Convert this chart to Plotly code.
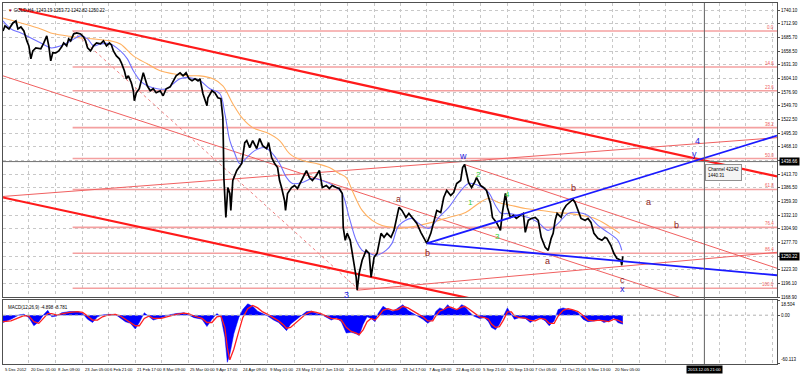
import plotly.graph_objects as go

# ---------------- data (x = bar position on the chart's time scale) ----------------
date_labels = ["5 Dec 2012", "20 Dec 01:00", "8 Jan 09:00", "23 Jan 05:00", "6 Feb 21:00",
               "21 Feb 17:00", "8 Mar 09:00", "25 Mar 00:00", "9 Apr 17:00", "24 Apr 09:00",
               "9 May 01:00", "23 May 17:00", "7 Jun 13:00", "24 Jun 05:00", "9 Jul 01:00",
               "23 Jul 17:00", "7 Aug 09:00", "22 Aug 01:00", "5 Sep 21:00", "20 Sep 13:00",
               "7 Oct 05:00", "21 Oct 21:00", "5 Nov 13:00", "20 Nov 05:00"]
date_pos = [2, 28, 55, 82, 108, 135, 161, 188, 214, 241, 268, 295, 321, 348, 375, 402,
            428, 455, 482, 509, 535, 562, 588, 615]
grid_pos = [2, 28, 55, 82, 108, 135, 161, 188, 214, 241, 268, 295, 321, 348, 375, 402,
            428, 455, 482, 509, 535, 562, 588, 615, 642, 668, 695, 722, 748, 775]

price_x = [2, 4, 8, 12, 15, 17, 20, 23, 26, 28, 30, 32, 35, 40, 43, 46, 48, 50, 52, 55, 58, 61, 63,
           66, 68, 70, 73, 76, 80, 83, 85, 87, 90, 93, 96, 100, 103, 106, 109, 111, 113, 116, 119,
           121, 124, 126, 128, 131, 133, 134, 136, 139, 143, 145, 147, 150, 153, 156, 160, 163, 166,
           170, 173, 176, 180, 183, 186, 189, 192, 195, 198, 200, 203, 207, 208, 212, 215, 218, 221,
           223, 223.5, 224, 226, 228, 230, 231, 233, 237, 242, 245, 247, 250, 253, 257, 260, 263,
           267, 269, 272, 275, 278, 280, 282, 285, 286, 288, 292, 295, 298, 302, 307, 310, 313, 317,
           320, 323, 327, 330, 333, 337, 340, 343, 344, 346, 348, 351, 353, 355, 357, 358, 360, 363,
           367, 370, 372, 375, 378, 382, 385, 388, 392, 395, 397, 399, 400, 403, 407, 410, 415, 418,
           422, 425, 428, 432, 435, 438, 442, 445, 448, 452, 455, 458, 462, 464, 466, 468, 470, 473,
           476, 478, 482, 485, 488, 492, 494, 498, 502, 504, 506, 507, 509, 512, 515, 518, 522, 525,
           527, 530, 533, 537, 540, 543, 547, 550, 553, 555, 557, 559, 563, 565, 568, 572, 575, 577,
           580, 583, 587, 590, 593, 596, 600, 604, 607, 609, 613, 616, 619, 623, 624, 625]
price = [1698.6, 1708.6, 1702.6, 1714.5, 1718.5, 1702.6, 1706.6, 1698.6, 1678.8, 1668.9, 1643.1,
         1658.9, 1664.9, 1662.9, 1674.8, 1688.7, 1668.9, 1639.1, 1655.0, 1655.0, 1658.9, 1666.9,
         1674.8, 1668.9, 1682.8, 1678.8, 1692.7, 1694.7, 1692.7, 1686.7, 1678.8, 1664.9, 1658.9,
         1668.9, 1674.8, 1672.8, 1678.8, 1668.9, 1674.8, 1670.9, 1658.9, 1649.0, 1643.1, 1635.1,
         1619.3, 1603.4, 1609.3, 1595.5, 1579.6, 1559.7, 1575.6, 1583.6, 1615.3, 1599.4, 1589.5,
         1579.6, 1583.6, 1575.6, 1579.6, 1569.7, 1583.6, 1587.5, 1599.4, 1609.3, 1615.3, 1609.3,
         1615.3, 1603.4, 1599.4, 1603.4, 1599.4, 1603.4, 1573.6, 1549.8, 1565.7, 1579.6, 1575.6,
         1565.7, 1563.7, 1526.0, 1474.4, 1407.0, 1327.6, 1387.1, 1375.2, 1341.5, 1401.0, 1420.9,
         1434.8, 1476.4, 1480.4, 1466.5, 1480.4, 1464.5, 1484.4, 1470.5, 1464.5, 1476.4, 1446.7,
         1434.8, 1426.8, 1401.0, 1387.1, 1361.3, 1341.5, 1375.2, 1387.1, 1391.1, 1385.2, 1401.0,
         1420.9, 1407.0, 1401.0, 1410.9, 1420.9, 1387.1, 1391.1, 1385.2, 1391.1, 1387.1, 1385.2,
         1375.2, 1307.8, 1282.0, 1295.9, 1282.0, 1256.2, 1236.4, 1208.6, 1182.8, 1216.5, 1242.3,
         1262.1, 1256.2, 1208.6, 1248.3, 1256.2, 1295.9, 1287.9, 1295.9, 1287.9, 1301.8, 1321.7,
         1341.5, 1347.5, 1341.5, 1327.6, 1335.6, 1321.7, 1315.7, 1297.9, 1287.9, 1276.0, 1295.9,
         1317.7, 1341.5, 1337.5, 1367.3, 1381.2, 1371.3, 1377.2, 1395.1, 1401.0, 1426.8, 1432.8,
         1414.9, 1397.1, 1387.1, 1397.1, 1407.0, 1391.1, 1387.1, 1381.2, 1355.4, 1327.6, 1317.7,
         1301.8, 1337.5, 1367.3, 1375.2, 1347.5, 1327.6, 1331.6, 1325.6, 1331.6, 1335.6, 1297.9,
         1321.7, 1325.6, 1327.6, 1321.7, 1287.9, 1268.1, 1262.1, 1286.0, 1295.9, 1321.7, 1335.6,
         1327.6, 1341.5, 1351.4, 1357.4, 1363.3, 1357.4, 1341.5, 1325.6, 1321.7, 1325.6, 1317.7,
         1295.9, 1286.0, 1282.0, 1287.9, 1286.0, 1272.1, 1256.2, 1246.3, 1242.3, 1232.4, 1250.2]

ma_fast_x = [2, 10, 20, 30, 40, 50, 60, 70, 80, 87, 93, 100, 110, 120, 127, 133, 140, 147, 157,
             167, 173, 180, 190, 200, 210, 220, 225, 230, 235, 240, 247, 255, 265, 272, 280, 287,
             293, 303, 313, 323, 337, 343, 350, 357, 363, 370, 377, 387, 393, 400, 413, 420, 430,
             440, 450, 460, 470, 480, 490, 497, 503, 510, 520, 530, 540, 550, 560, 570, 580, 590,
             600, 610, 620, 624]
ma_fast = [1718.5, 1702.6, 1694.7, 1684.7, 1674.8, 1664.9, 1668.9, 1678.8, 1688.7, 1682.8, 1668.9,
           1672.8, 1672.8, 1658.9, 1643.1, 1619.3, 1599.4, 1589.5, 1583.6, 1583.6, 1593.5, 1603.4,
           1605.4, 1599.4, 1583.6, 1573.6, 1534.0, 1480.4, 1454.6, 1434.8, 1446.7, 1460.5, 1466.5,
           1456.6, 1434.8, 1407.0, 1395.1, 1397.1, 1405.0, 1401.0, 1387.1, 1375.2, 1327.6, 1282.0,
           1262.1, 1256.2, 1252.2, 1262.1, 1276.0, 1311.7, 1325.6, 1315.7, 1305.8, 1327.6, 1347.5,
           1375.2, 1395.1, 1391.1, 1377.2, 1351.4, 1335.6, 1335.6, 1331.6, 1327.6, 1317.7, 1301.8,
           1315.7, 1335.6, 1337.5, 1331.6, 1311.7, 1297.9, 1282.0, 1262.1]

ma_slow_x = [2, 20, 40, 50, 67, 80, 93, 110, 120, 133, 147, 160, 173, 187, 200, 213, 223, 233, 243,
             253, 267, 280, 290, 303, 317, 330, 340, 347, 353, 363, 373, 383, 393, 400, 420, 433,
             450, 467, 480, 490, 500, 513, 527, 543, 557, 570, 583, 597, 610, 622]
ma_slow = [1724.4, 1714.5, 1702.6, 1694.7, 1688.7, 1684.7, 1682.8, 1678.8, 1672.8, 1649.0, 1633.2,
           1619.3, 1613.3, 1609.3, 1609.3, 1603.4, 1589.5, 1553.8, 1524.0, 1506.2, 1496.3, 1480.4,
           1454.6, 1440.7, 1434.8, 1426.8, 1414.9, 1407.0, 1381.2, 1341.5, 1321.7, 1311.7, 1307.8,
           1305.8, 1311.7, 1317.7, 1327.6, 1337.5, 1355.4, 1365.3, 1357.4, 1351.4, 1345.5, 1341.5,
           1337.5, 1335.6, 1331.6, 1325.6, 1311.7, 1295.9]

# trend lines: (x0, p0, x1, p1)
thick_red_lines = [(18, 1742.3, 780, 1409.0), (2, 1367.3, 480, 1162.9)]
thin_red_lines = [(2, 1369.3, 780, 1486.3), (2, 1609.3, 700, 1157.0),
                  (466, 1432.8, 780, 1226.4), (358, 1182.8, 780, 1258.2)]
blue_lines = [(428, 1276.0, 780, 1490.3), (428, 1276.0, 780, 1212.5)]
fib_dotted = (72, 1698.6, 358, 1186.8)

fib_labels = ["0.0", "14.6", "23.6", "38.2", "50.0", "61.8", "76.4", "86.4", "100.0"]
fib_prices = [1698.6, 1627.0, 1579.6, 1506.2, 1444.7, 1383.2, 1307.8, 1256.2, 1186.8]
fib_start = 72

price_ticks = [1168.90, 1196.10, 1223.30, 1250.50, 1277.70, 1304.90, 1332.10, 1359.30, 1386.50,
               1413.70, 1440.90, 1468.10, 1495.30, 1522.50, 1549.70, 1576.90, 1604.10, 1631.30,
               1658.50, 1685.70, 1712.90, 1740.10]
hidden_ticks = [1250.50, 1440.90]
cross_price = 1438.66
last_price = 1250.22
cross_x = 707

wave_blue = [("w", 464, 1450.6), ("4", 700, 1480.4), ("y", 697, 1454.6), ("3", 347, 1173.5),
             ("x", 625, 1184.8)]
wave_red = [("a", 400, 1363.3), ("b", 429, 1256.2), ("a", 549, 1240.3), ("b", 575, 1387.1),
            ("c", 625, 1202.6), ("a", 651, 1357.4), ("b", 679, 1311.7)]
wave_green = [("1", 472, 1357.4), ("2", 480, 1412.9), ("3", 499, 1289.9), ("4", 509, 1373.3)]

macd_x = [2, 10, 18, 23, 28, 33, 38, 43, 47, 51, 56, 61, 69, 77, 82, 87, 92, 97, 102, 107, 115, 120,
          125, 130, 135, 139, 144, 149, 153, 161, 169, 176, 184, 189, 194, 202, 207, 212, 217, 221,
          225, 227.5, 230, 234, 239, 243, 248, 253, 258, 263, 268, 274, 279, 284, 287, 291, 297,
          302, 307, 312, 317, 322, 327, 332, 337, 342, 347, 352, 357, 360, 364, 368, 372, 376, 379,
          384, 389, 394, 399, 404, 409, 417, 424, 429, 434, 437, 441, 445, 449, 452, 458, 463, 466,
          470, 475, 481, 486, 490, 493, 497, 501, 505, 509, 513, 516, 521, 527, 532, 537, 542, 547,
          551, 556, 560, 565, 570, 575, 580, 585, 590, 596, 601, 606, 611, 616, 620, 625]
macd_hist = [-9, -5, 0.4, 1.2, -3, -13, -8, 1, 6, -2, -1, 3, 4.5, 4.5, 2, -5, -9, -2, 0.4, 1, 1, -3,
             -8, -10, -17, -9, 3, -2, -6, -3, 0.4, 2, 3, 0, -3, -5, -14, -5, 2, -2, -27, -58, -48,
             -23, -3, 7, 14, 11, 5, 2, -1, -6, -9, -15, -19, -11, -5, 0.4, 4.5, 5, 2, 1, -3, -6, -3,
             -8, -22, -21, -23, -25, -11, -2, -4, -8, 2, 11, 7, 4.5, 9, 13, 6, 0.4, -5, -10, -5, 4.5,
             9, 7, 13, 9, 6, 13, 11, 5, -1, -4, -3, -8, -15, -18, -11, -1, 9, 1, -5, -3, -4, -9, -5,
             -3, -7, -13, -7, 7, 9, 7, 6, 3, -5, -8, -7, -5, -9, -7, -3, -9, -11]
macd_signal = [-8, -7, -3, -0.5, -1, -8, -10, -4, 2, 2, 0, 1.5, 3.5, 4.5, 3.5, -1, -6, -6, -2, 0, 1,
               -1, -5, -8, -13, -13, -4, -1, -4, -4, -1, 1, 2.5, 1.5, -1, -4, -9, -9, -2, -1, -15,
               -40, -55, -42, -20, -3, 8, 12, 9, 4, 1, -3, -7, -12, -16, -15, -9, -3, 2, 4.5, 3.5,
               1.5, -1, -4, -4.5, -6, -15, -20, -22, -24, -18, -8, -4, -6, -2, 6, 8, 6, 7, 11, 9, 3,
               -2, -7, -7, -1, 5, 7, 10, 10, 7, 10, 11, 8, 3, -2, -3, -5, -11, -15, -14, -6, 4, 4,
               -1, -3, -3.5, -6.5, -7, -4, -5, -10, -10, -1, 6, 8, 6.5, 4.5, -0.5, -6, -7, -6, -7,
               -8, -5, -6, -9]
macd_top, macd_bottom = 18.504, -60.113

# ---------------- figure ----------------
fig = go.Figure()
XA, YA = "x", "y"
XB, YB = "x2", "y2"

# fib horizontal lines
for p in fib_prices:
    fig.add_trace(go.Scatter(x=[fib_start, 780], y=[p, p], mode="lines", xaxis=XA, yaxis=YA,
                             line=dict(color="#f4a0a0", width=1.6), hoverinfo="skip"))
fig.add_trace(go.Scatter(x=[fib_dotted[0], fib_dotted[2]], y=[fib_dotted[1], fib_dotted[3]],
                         mode="lines", xaxis=XA, yaxis=YA,
                         line=dict(color="#f08080", width=1, dash="dot"), hoverinfo="skip"))
for x0, p0, x1, p1 in thin_red_lines:
    fig.add_trace(go.Scatter(x=[x0, x1], y=[p0, p1], mode="lines", xaxis=XA, yaxis=YA,
                             line=dict(color="#f06060", width=1), hoverinfo="skip"))
for x0, p0, x1, p1 in thick_red_lines:
    fig.add_trace(go.Scatter(x=[x0, x1], y=[p0, p1], mode="lines", xaxis=XA, yaxis=YA,
                             line=dict(color="#ff1a1a", width=2.2), hoverinfo="skip"))
# crosshair horizontal
fig.add_trace(go.Scatter(x=[2, 780], y=[cross_price, cross_price], mode="lines", xaxis=XA, yaxis=YA,
                         line=dict(color="#707070", width=1), hoverinfo="skip"))
# moving averages
fig.add_trace(go.Scatter(x=ma_slow_x, y=ma_slow, mode="lines", xaxis=XA, yaxis=YA,
                         line=dict(color="#ffb060", width=1.1, shape="spline"), hoverinfo="skip"))
fig.add_trace(go.Scatter(x=ma_fast_x, y=ma_fast, mode="lines", xaxis=XA, yaxis=YA,
                         line=dict(color="#7070ff", width=1.1, shape="spline"), hoverinfo="skip"))
# price
fig.add_trace(go.Scatter(x=price_x, y=price, mode="lines", xaxis=XA, yaxis=YA,
                         line=dict(color="#000000", width=1.7), hoverinfo="skip"))
for x0, p0, x1, p1 in blue_lines:
    fig.add_trace(go.Scatter(x=[x0, x1], y=[p0, p1], mode="lines", xaxis=XA, yaxis=YA,
                             line=dict(color="#1a1aff", width=1.8), hoverinfo="skip"))

# wave labels
for t, x, p in wave_blue:
    fig.add_annotation(x=x, y=p, xref=XA, yref=YA, text=t, showarrow=False,
                       font=dict(family="Liberation Sans", size=9, color="#2020e0"))
for t, x, p in wave_red:
    fig.add_annotation(x=x, y=p, xref=XA, yref=YA, text=t, showarrow=False,
                       font=dict(family="Liberation Sans", size=9, color="#8b1a1a"))
for t, x, p in wave_green:
    fig.add_annotation(x=x, y=p, xref=XA, yref=YA, text=t, showarrow=False,
                       font=dict(family="Liberation Sans", size=8, color="#30d030"))

# fib labels
for t, p in zip(fib_labels, fib_prices):
    fig.add_annotation(x=779, y=p, xref=XA, yref=YA, text=t, showarrow=False, xanchor="right",
                       yanchor="bottom", yshift=-1,
                       font=dict(family="Liberation Sans", size=4.5, color="#f06060"))

# MACD
fig.add_trace(go.Scatter(x=macd_x, y=macd_hist, mode="lines", xaxis=XB, yaxis=YB, fill="tozeroy",
                         fillcolor="#0000ff", line=dict(color="#0000ff", width=0.5), hoverinfo="skip"))
fig.add_trace(go.Scatter(x=macd_x, y=macd_signal, mode="lines", xaxis=XB, yaxis=YB,
                         line=dict(color="#ff2020", width=1.3), hoverinfo="skip"))

# vertical crosshair
fig.add_shape(type="line", xref=XA, yref="paper", x0=cross_x, x1=cross_x, y0=0, y1=1,
              line=dict(color="#606060", width=1))
fig.add_shape(type="line", xref=XB, yref=YB, x0=2, x1=780, y0=0, y1=0,
              line=dict(color="#b0b0b0", width=1, dash="dot"))

# texts
small = dict(family="Liberation Sans", size=4.5, color="#000000")
fig.add_annotation(x=0.004, y=0.992, xref="paper", yref="paper", xanchor="left", yanchor="top",
                   showarrow=False, text="<span style='color:#a00000'>▼</span> GOLD,H4  1243.19 1253.72 1242.82 1250.22",
                   font=small)
fig.add_annotation(x=0.004, y=0.17, xref="paper", yref="paper", xanchor="left", yanchor="top",
                   showarrow=False, text="MACD(12,26,9) -4.898 -8.781", font=small)
fig.add_annotation(x=cross_x + 1, y=cross_price, xref=XA, yref=YA, xanchor="left", yanchor="top",
                   showarrow=False, text="Channel 42242<br>1440.31", align="left", yshift=-2,
                   bgcolor="#f4f4f4", bordercolor="#909090", borderwidth=1, borderpad=2,
                   font=dict(family="Liberation Sans", size=4.5, color="#000000"))
for p in (cross_price, last_price):
    fig.add_annotation(x=1.0, y=p, xref="paper", yref=YA, xanchor="left", showarrow=False,
                       text=f"{p:.2f}", bgcolor="#000000", xshift=2,
                       font=dict(family="Liberation Sans", size=4.5, color="#ffffff"))
# MACD scale labels
for t, v, anchor in (("18.504", macd_top, "top"), ("0.00", 0, "middle"), ("-60.113", macd_bottom, "bottom")):
    fig.add_annotation(x=1.0, y=v, xref="paper", yref=YB, xanchor="left", yanchor=anchor,
                       showarrow=False, text=t, xshift=2, font=small)
for t, x in zip(date_labels, date_pos):
    fig.add_annotation(x=x, y=0, xref=XB, yref="paper", xanchor="left", yanchor="middle",
                       yshift=-5, showarrow=False, text=t,
                       font=dict(family="Liberation Sans", size=4.2, color="#000000"))
fig.add_annotation(x=cross_x, y=0, xref=XB, yref="paper", xanchor="center", yanchor="middle",
                   yshift=-5, showarrow=False, text="2013.12.05 21:00", bgcolor="#000000",
                   font=dict(family="Liberation Sans", size=4.2, color="#ffffff"))

grid = dict(showgrid=True, gridcolor="#c8c8c8", griddash="dot", gridwidth=1)
frame = dict(showline=True, linecolor="#505050", linewidth=1, mirror=True)
fig.update_layout(
    width=800, height=374, margin=dict(l=2, r=20, t=2, b=10),
    paper_bgcolor="white", plot_bgcolor="white", showlegend=False,
    xaxis=dict(domain=[0, 1], anchor="y", range=[2, 780], tickvals=grid_pos,
               showticklabels=False, ticks="", zeroline=False, **grid, **frame),
    yaxis=dict(domain=[0.1851, 1], anchor="x", side="right", range=[1168.9, 1754.2],
               tickvals=price_ticks,
               ticktext=["" if v in hidden_ticks else f"{v:.2f}" for v in price_ticks],
               ticks="outside", ticklen=2, tickcolor="#505050", zeroline=False,
               tickfont=dict(family="Liberation Sans", size=4.5, color="#000000"), **grid, **frame),
    xaxis2=dict(domain=[0, 1], anchor="y2", range=[2, 780], matches="x", tickvals=grid_pos,
                showticklabels=False, ticks="", zeroline=False, **grid, **frame),
    yaxis2=dict(domain=[0, 0.1768], anchor="x2", side="right", range=[macd_bottom, macd_top],
                tickvals=[macd_top, 0, macd_bottom], showticklabels=False,
                ticks="outside", ticklen=2, tickcolor="#505050", showgrid=False, zeroline=False,
                **frame),
)
fig.write_html("out.html", config={"displayModeBar": False},
               post_script="document.body.style.margin='0';document.body.style.overflow='hidden';")
